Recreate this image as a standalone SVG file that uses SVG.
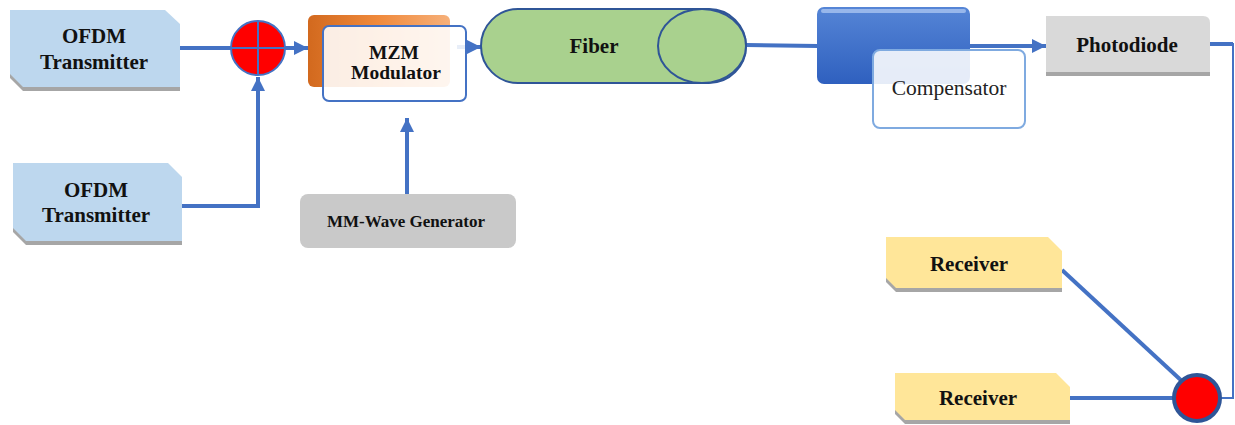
<svg xmlns="http://www.w3.org/2000/svg" width="1235" height="425" viewBox="0 0 1235 425">
  <defs>
    <marker id="arrow" markerUnits="userSpaceOnUse" markerWidth="16" markerHeight="16" refX="14" refY="7" orient="auto">
      <path d="M0,0 L14,7 L0,14 Z" fill="#4472C4"/>
    </marker>
    <linearGradient id="orangeGrad" x1="0" y1="0" x2="1" y2="0">
      <stop offset="0" stop-color="#D2691E"/>
      <stop offset="0.5" stop-color="#F08A3C"/>
      <stop offset="1" stop-color="#F6B07A"/>
    </linearGradient>
    <linearGradient id="blueGrad" x1="0" y1="0" x2="0" y2="1">
      <stop offset="0" stop-color="#5585D6"/>
      <stop offset="1" stop-color="#2F60BF"/>
    </linearGradient>
    <style>
      .conn { fill: none; stroke: #4472C4; stroke-width: 4; }
      .thin { fill: none; stroke: #4472C4; stroke-width: 2; }
      .lbl { font-family: "Liberation Serif", "Times New Roman", serif; font-weight: bold; fill: #111; text-anchor: middle; }
      .reg { font-family: "Liberation Serif", "Times New Roman", serif; fill: #222; text-anchor: middle; }
      .shadow { fill: #A6A6A6; }
    </style>
  </defs>

  <rect width="1235" height="425" fill="#FFFFFF"/>

  <!-- connectors -->
  <g id="connectors">
    <line class="conn" x1="180" y1="48" x2="232" y2="48"/>
    <line class="conn" x1="285" y1="48" x2="308" y2="48" marker-end="url(#arrow)"/>
    <polyline class="conn" points="182,206 258,206 258,77" marker-end="url(#arrow)"/>
    <line class="conn" x1="457" y1="47" x2="481" y2="47" stroke="#A9C0E8" marker-end="url(#arrow)"/>
    <line class="conn" x1="407" y1="194" x2="407" y2="118" marker-end="url(#arrow)"/>
    <line class="conn" x1="746" y1="45" x2="818" y2="46"/>
    <line class="conn" x1="968" y1="46" x2="1046" y2="46" marker-end="url(#arrow)"/>
    <polyline class="conn" points="1210,44 1233,44"/>
    <polyline class="thin" points="1233,43 1233,398 1221,398"/>
    <line class="conn" x1="1062" y1="270" x2="1184" y2="383"/>
    <line class="conn" x1="1070" y1="398" x2="1174" y2="398"/>
  </g>

  <!-- OFDM transmitter 1 -->
  <g id="ofdm-tx-1">
    <polygon class="shadow" points="10,14 165,14 180,28 180,91 23,91 10,78"/>
    <polygon points="10,10 165,10 180,24 180,87 23,87 10,74" fill="#BDD7EE"/>
    <text class="lbl" x="94" y="43" font-size="21">OFDM</text>
    <text class="lbl" x="94" y="69" font-size="21">Transmitter</text>
  </g>

  <!-- OFDM transmitter 2 -->
  <g id="ofdm-tx-2">
    <polygon class="shadow" points="13,167 168,167 182,181 182,245 26,245 13,232"/>
    <polygon points="13,163 168,163 182,177 182,241 26,241 13,228" fill="#BDD7EE"/>
    <text class="lbl" x="96" y="197" font-size="21">OFDM</text>
    <text class="lbl" x="96" y="222" font-size="21">Transmitter</text>
  </g>

  <!-- summing junction at the transmitter side -->
  <g id="adder-tx">
    <circle cx="258" cy="48" r="27" fill="#FF0000" stroke="#4472C4" stroke-width="2"/>
    <line x1="231" y1="48" x2="285" y2="48" stroke="#4472C4" stroke-width="2"/>
    <line x1="258" y1="21" x2="258" y2="75" stroke="#4472C4" stroke-width="2"/>
  </g>

  <!-- MZM modulator -->
  <g id="mzm">
    <rect x="308" y="15" width="142" height="72" rx="6" fill="url(#orangeGrad)"/>
    <rect x="323" y="26" width="143" height="75" rx="6" fill="#FFFFFF" fill-opacity="0.88" stroke="#4472C4" stroke-width="2"/>
    <text class="lbl" x="394" y="59" font-size="19.5">MZM</text>
    <text class="lbl" x="396" y="79" font-size="19.5">Modulator</text>
  </g>

  <!-- MM-wave generator -->
  <g id="mm-wave">
    <rect x="300" y="194" width="216" height="54" rx="8" fill="#C9C9C9"/>
    <text class="lbl" x="406" y="227" font-size="17">MM-Wave Generator</text>
  </g>

  <!-- fiber drawn as a horizontal cylinder -->
  <g id="fiber">
    <rect x="481" y="9" width="265" height="74" rx="37" fill="#A9D18E" stroke="#2F5597" stroke-width="2"/>
    <ellipse cx="702" cy="46" rx="44" ry="37" fill="#A9D18E" stroke="#2F5597" stroke-width="2"/>
    <text class="lbl" x="594" y="53" font-size="21">Fiber</text>
  </g>

  <!-- dispersion compensator -->
  <g id="compensator">
    <rect x="817" y="7" width="153" height="77" rx="7" fill="url(#blueGrad)"/>
    <rect x="821" y="9" width="145" height="4" rx="2" fill="#A9C4F0" opacity="0.8"/>
    <rect x="873" y="50" width="152" height="78" rx="7" fill="#FFFFFF" fill-opacity="0.88" stroke="#7FAAE0" stroke-width="2"/>
    <text class="reg" x="949" y="95" font-size="21.5">Compensator</text>
  </g>

  <!-- photodiode -->
  <g id="photodiode">
    <rect x="1046" y="72" width="164" height="4" fill="#A6A6A6"/>
    <path d="M1046,16 H1203 Q1210,16 1210,23 V72 H1046 Z" fill="#D9D9D9"/>
    <text class="lbl" x="1127" y="52" font-size="21">Photodiode</text>
  </g>

  <!-- receiver 1 -->
  <g id="receiver-1">
    <polygon class="shadow" points="886,241 1048,241 1062,255 1062,292 896,292 886,282"/>
    <polygon points="886,237 1048,237 1062,251 1062,288 896,288 886,278" fill="#FFE699"/>
    <text class="lbl" x="969" y="271" font-size="21">Receiver</text>
  </g>

  <!-- receiver 2 -->
  <g id="receiver-2">
    <polygon class="shadow" points="895,377 1056,377 1070,391 1070,424 905,424 895,414"/>
    <polygon points="895,373 1056,373 1070,387 1070,420 905,420 895,410" fill="#FFE699"/>
    <text class="lbl" x="978" y="405" font-size="21">Receiver</text>
  </g>

  <!-- summing junction at the receiver side -->
  <g id="adder-rx">
    <circle cx="1197" cy="398" r="23" fill="#FF0000" stroke="#2F5597" stroke-width="4"/>
  </g>
</svg>
